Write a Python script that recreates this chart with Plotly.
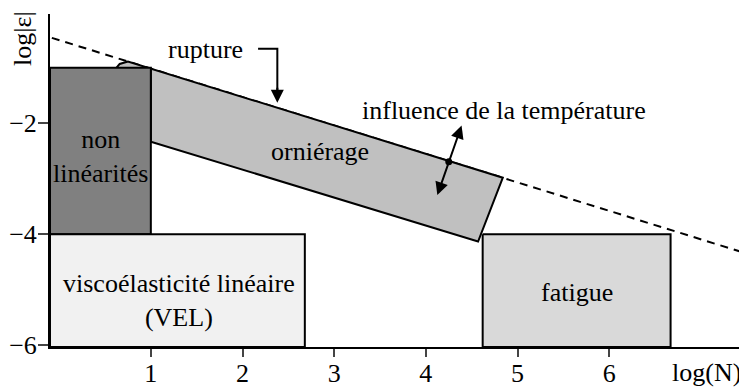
import plotly.graph_objects as go

# Schematic domains of bitumen behaviour: log|strain| versus log(number of cycles)
FONT = dict(family="Liberation Serif, Times New Roman, serif", size=26, color="black")
X_RANGE = [-0.10, 7.46]
Y_RANGE = [-6.03, -0.03]

x_ticks = [1, 2, 3, 4, 5, 6]
y_ticks = [-2, -4, -6]

# rupture limit (dashed)
rupture_x = [-0.08, 7.43]
rupture_y = [-0.46, -4.31]

# domains
nonlin_x = [-0.10, 1.0, 1.0, -0.10, -0.10]
nonlin_y = [-1.0, -1.0, -4.0, -4.0, -1.0]

vel_x = [-0.10, 2.68, 2.68, -0.10, -0.10]
vel_y = [-4.0, -4.0, -6.03, -6.03, -4.0]

fatigue_x = [4.62, 6.67, 6.67, 4.62, 4.62]
fatigue_y = [-4.0, -4.0, -6.03, -6.03, -4.0]

rutting_x = [0.61, 0.66, 0.75, 4.84, 4.57, 1.0, 1.0, 0.61]
rutting_y = [-1.03, -0.93, -0.885, -2.98, -4.13, -2.33, -1.03, -1.03]

# arrows
rupture_arrow_x = [2.17, 2.38, 2.38]
rupture_arrow_y = [-0.655, -0.655, -1.63]
temp_arrow = dict(x0=4.39, y0=-2.04, x1=4.12, y1=-3.32)
temp_dot = (4.25, -2.69)

fig = go.Figure()

fig.add_trace(go.Scatter(x=rupture_x, y=rupture_y, mode="lines",
                         line=dict(color="black", width=2, dash="8px,6px")))
fig.add_trace(go.Scatter(x=rutting_x, y=rutting_y, mode="lines", fill="toself",
                         fillcolor="#c0c0c0", line=dict(color="black", width=2)))
for xs, ys, col in [(nonlin_x, nonlin_y, "#808080"),
                    (vel_x, vel_y, "#f1f1f1"),
                    (fatigue_x, fatigue_y, "#d9d9d9")]:
    fig.add_trace(go.Scatter(x=xs, y=ys, mode="lines", fill="toself",
                             fillcolor=col, line=dict(color="black", width=2)))

fig.add_trace(go.Scatter(x=rupture_arrow_x[:2] + [rupture_arrow_x[2]],
                         y=rupture_arrow_y[:2] + [rupture_arrow_y[2] + 0.1],
                         mode="lines", line=dict(color="black", width=2)))
fig.add_trace(go.Scatter(x=[temp_dot[0]], y=[temp_dot[1]], mode="markers",
                         marker=dict(color="black", size=7)))

fig.add_annotation(x=rupture_arrow_x[2], y=rupture_arrow_y[2],
                   ax=rupture_arrow_x[2], ay=rupture_arrow_y[2] + 0.3,
                   xref="x", yref="y", axref="x", ayref="y",
                   showarrow=True, arrowhead=2, arrowsize=1.3, arrowwidth=2,
                   arrowcolor="black", text="")
fig.add_annotation(x=temp_arrow["x0"], y=temp_arrow["y0"],
                   ax=temp_arrow["x1"], ay=temp_arrow["y1"],
                   xref="x", yref="y", axref="x", ayref="y",
                   showarrow=True, arrowhead=2, arrowside="end+start",
                   arrowsize=1.3, arrowwidth=2, arrowcolor="black", text="")

labels = [
    ("rupture", 1.60, -0.67),
    ("influence de la température", 4.85, -1.77),
    ("orniérage", 2.85, -2.51),
    ("non<br>linéarités", 0.45, -2.59),
    ("viscoélasticité linéaire<br>(VEL)", 1.31, -5.20),
    ("fatigue", 5.65, -5.05),
]
for txt, x, y in labels:
    fig.add_annotation(x=x, y=y, text=txt, showarrow=False, font=FONT,
                       xanchor="center", yanchor="middle")

fig.add_annotation(x=1.0, y=-0.078, xref="paper", yref="paper", text="log(N)",
                   xanchor="right", yanchor="middle", showarrow=False, font=FONT)
fig.add_annotation(x=-0.039, y=0.928, xref="paper", yref="paper", text="log|ε|",
                   xanchor="center", yanchor="middle",
                   textangle=-90, showarrow=False, font=FONT)

# the page body adds an 8px offset, so the figure is 8px smaller than the window
fig.update_layout(
    width=739, height=379, showlegend=False,
    margin=dict(l=42, r=4, t=6, b=40),
    paper_bgcolor="white", plot_bgcolor="white",
    font=FONT,
)
fig.update_xaxes(range=X_RANGE, tickvals=x_ticks, ticks="outside", ticklen=8,
                 tickwidth=2, showline=True, linewidth=2, linecolor="black",
                 showgrid=False, zeroline=False, tickfont=FONT,
                 automargin=False, ticklabelstandoff=-6)
fig.update_yaxes(range=Y_RANGE, tickvals=y_ticks, ticks="outside", ticklen=10,
                 tickwidth=2, showline=True, linewidth=2, linecolor="black",
                 showgrid=False, zeroline=False, tickfont=FONT,
                 automargin=False, ticklabelstandoff=-4)

fig.write_html("out.html")
